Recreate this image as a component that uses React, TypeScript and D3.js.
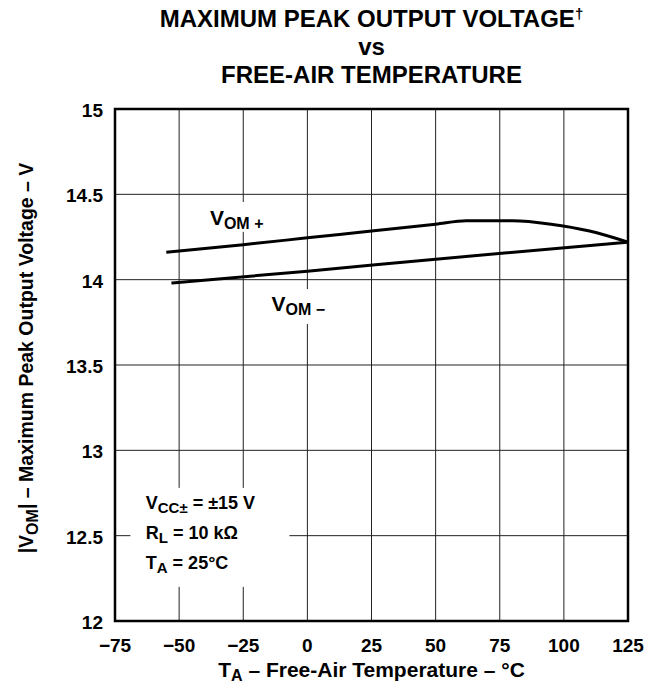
import React, { useRef, useEffect } from 'react';
import * as d3 from 'd3';

// temperatures (°C) and |VOM| values (V)
const tempPlus = [-55, -25, 0, 25, 50, 62, 80, 95, 110, 125];
const vomPlus = [14.16, 14.205, 14.245, 14.285, 14.325, 14.345, 14.345, 14.325, 14.285, 14.22];
const tempMinus = [-53, 0, 50, 125];
const vomMinus = [13.98, 14.05, 14.12, 14.22];

const xTicks = [-75, -50, -25, 0, 25, 50, 75, 100, 125];
const yTicks = [12, 12.5, 13, 13.5, 14, 14.5, 15];
const xTickLabels = ['−75', '−50', '−25', '0', '25', '50', '75', '100', '125'];
const yTickLabels = ['12', '12.5', '13', '13.5', '14', '14.5', '15'];

const FONT = 'Liberation Sans, Arial, Helvetica, sans-serif';

const App = () => {
    const ref = useRef<SVGSVGElement>(null);

    useEffect(() => {
        const svg = d3.select(ref.current);
        svg.selectAll('*').remove();
        const margin = { top: 109, right: 32, bottom: 65, left: 115 };
        const width = 660 - margin.left - margin.right;
        const height = 686 - margin.top - margin.bottom;
        const g = svg.append('g').attr('transform', `translate(${margin.left},${margin.top})`);

        const x = d3.scaleLinear().domain([-75, 125]).range([0, width]);
        const y = d3.scaleLinear().domain([12, 15]).range([height, 0]);

        // grid
        g.append('g').selectAll('line.v')
            .data(xTicks.slice(1, -1))
            .enter().append('line')
            .attr('x1', d => x(d)).attr('x2', d => x(d))
            .attr('y1', 0).attr('y2', height)
            .attr('stroke', '#222').attr('stroke-width', 1);
        g.append('g').selectAll('line.h')
            .data(yTicks.slice(1, -1))
            .enter().append('line')
            .attr('x1', 0).attr('x2', width)
            .attr('y1', d => y(d)).attr('y2', d => y(d))
            .attr('stroke', '#222').attr('stroke-width', 1);

        // white patches behind labels (grid is broken there)
        const patch = (t0: number, t1: number, v0: number, v1: number) =>
            g.append('rect').attr('x', x(t0)).attr('y', y(v0))
                .attr('width', x(t1) - x(t0)).attr('height', y(v1) - y(v0)).attr('fill', '#fff');
        patch(-69, -7, 12.78, 12.2);
        patch(-29, -21, 14.455, 14.28);
        patch(-4, 4, 13.945, 13.74);

        // frame
        g.append('rect').attr('x', 0).attr('y', 0).attr('width', width).attr('height', height)
            .attr('fill', 'none').attr('stroke', '#000').attr('stroke-width', 2.5);

        // curves
        const line = d3.line<[number, number]>()
            .x(d => x(d[0])).y(d => y(d[1]))
            .curve(d3.curveMonotoneX);
        g.append('path')
            .datum(tempPlus.map((t, i) => [t, vomPlus[i]] as [number, number]))
            .attr('d', line).attr('fill', 'none').attr('stroke', '#000').attr('stroke-width', 3);
        g.append('path')
            .datum(tempMinus.map((t, i) => [t, vomMinus[i]] as [number, number]))
            .attr('d', line).attr('fill', 'none').attr('stroke', '#000').attr('stroke-width', 3);

        const bold = (sel: any, size: number) =>
            sel.attr('font-family', FONT).attr('font-weight', 'bold').attr('font-size', size).attr('fill', '#000');

        // tick labels
        bold(g.append('g'), 19).selectAll('text')
            .data(xTicks)
            .enter().append('text')
            .attr('x', d => x(d)).attr('y', height + 31)
            .attr('text-anchor', 'middle')
            .text((d, i) => xTickLabels[i]);
        bold(g.append('g'), 19).selectAll('text')
            .data(yTicks)
            .enter().append('text')
            .attr('x', -12).attr('y', d => y(d) + 8)
            .attr('text-anchor', 'end')
            .text((d, i) => yTickLabels[i]);

        // series labels
        const lp = bold(g.append('text').attr('x', x(-38)).attr('y', y(14.32)), 21);
        lp.append('tspan').text('V');
        lp.append('tspan').attr('font-size', 16).attr('dy', 4).text('OM +');
        const lm = bold(g.append('text').attr('x', x(-14)).attr('y', y(13.815)), 21);
        lm.append('tspan').text('V');
        lm.append('tspan').attr('font-size', 16).attr('dy', 4).text('OM −');

        // conditions
        const c1 = bold(g.append('text').attr('x', x(-63)).attr('y', y(12.655)), 18);
        c1.append('tspan').text('V');
        c1.append('tspan').attr('font-size', 15).attr('dy', 4).text('CC±');
        c1.append('tspan').attr('dy', -4).text(' = ±15 V');
        const c2 = bold(g.append('text').attr('x', x(-63)).attr('y', y(12.478)), 18);
        c2.append('tspan').text('R');
        c2.append('tspan').attr('font-size', 15).attr('dy', 4).text('L');
        c2.append('tspan').attr('dy', -4).text(' = 10 kΩ');
        const c3 = bold(g.append('text').attr('x', x(-63)).attr('y', y(12.302)), 18);
        c3.append('tspan').text('T');
        c3.append('tspan').attr('font-size', 15).attr('dy', 4).text('A');
        c3.append('tspan').attr('dy', -4).text(' = 25°C');

        // title
        const cx = margin.left + width / 2;
        const t1 = bold(svg.append('text').attr('x', cx).attr('y', 27).attr('text-anchor', 'middle'), 24);
        t1.append('tspan').text('MAXIMUM PEAK OUTPUT VOLTAGE');
        t1.append('tspan').attr('font-size', 15).attr('dy', -8).text('†');
        bold(svg.append('text').attr('x', cx).attr('y', 55).attr('text-anchor', 'middle'), 24).text('vs');
        bold(svg.append('text').attr('x', cx).attr('y', 83).attr('text-anchor', 'middle'), 24).text('FREE-AIR TEMPERATURE');

        // x axis title
        const xt = bold(svg.append('text').attr('x', cx).attr('y', 677).attr('text-anchor', 'middle'), 21);
        xt.append('tspan').text('T');
        xt.append('tspan').attr('font-size', 16).attr('dy', 4).text('A');
        xt.append('tspan').attr('dy', -4).text(' – Free-Air Temperature – °C');

        // y axis title
        const yt = bold(svg.append('text')
            .attr('transform', `translate(33,358) rotate(-90)`)
            .attr('text-anchor', 'middle'), 19.5);
        yt.append('tspan').text('|V');
        yt.append('tspan').attr('font-size', 16).attr('dy', 5).text('OM');
        yt.append('tspan').attr('dy', -5).text('| – Maximum Peak Output Voltage – V');
    }, []);

    return (
        <svg ref={ref} width="660" height="686"
            style={{ position: 'absolute', left: 0, top: 0, background: '#fff' }}></svg>
    );
};

export default App;
